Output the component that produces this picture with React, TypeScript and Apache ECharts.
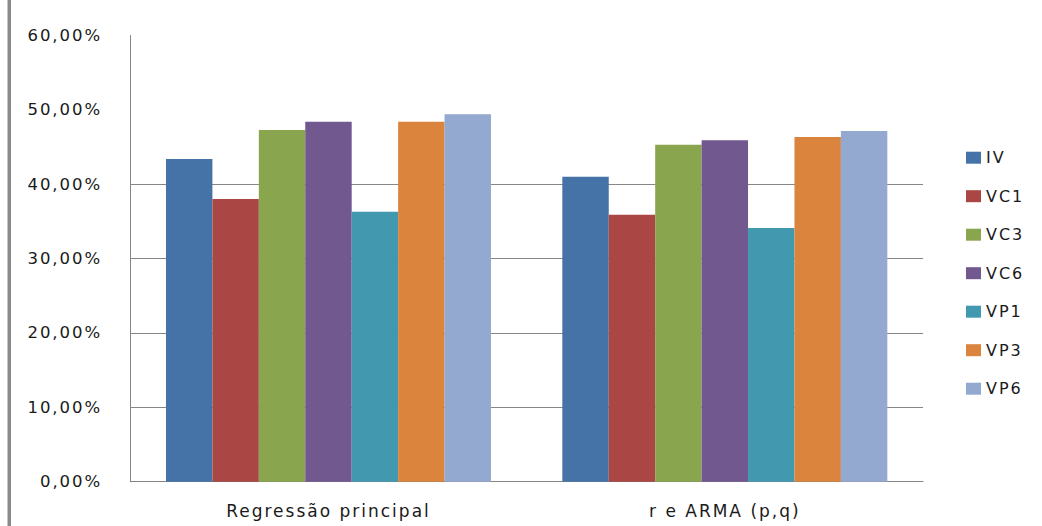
import React, { useEffect, useRef } from "react";
import * as echarts from "echarts";

const categories = ["Regressão principal", "r e ARMA (p,q)"];
const seriesNames = ["IV", "VC1", "VC3", "VC6", "VP1", "VP3", "VP6"];
const ivValues = [43.4, 41.0];
const vc1Values = [38.0, 35.9];
const vc3Values = [47.3, 45.3];
const vc6Values = [48.4, 45.9];
const vp1Values = [36.3, 34.1];
const vp3Values = [48.4, 46.35];
const vp6Values = [49.4, 47.15];
const seriesValues = [ivValues, vc1Values, vc3Values, vc6Values, vp1Values, vp3Values, vp6Values];
const seriesColors = ["#4572A7", "#AA4643", "#89A54E", "#71588F", "#4198AF", "#DB843D", "#93A9CF"];
const yTicks = [0, 10, 20, 30, 40, 50, 60];
const gridlineMax = 40;

const FONT = "DejaVu Sans";
const AXIS_COLOR = "#868686";

export default function App() {
  const ref = useRef<HTMLDivElement | null>(null);

  useEffect(() => {
    document.body.style.margin = "0";
    if (!ref.current) return;
    const chart = echarts.init(ref.current, null, { renderer: "svg" });

    const gridLeft = 130.3;
    const gridRight = 119;
    const gridTop = 35.5;
    const gridBottom = 44.3;
    const plotH = 526 - gridTop - gridBottom;
    const yMax = yTicks[yTicks.length - 1];
    const grid2Top = gridTop + plotH * (1 - gridlineMax / yMax);

    chart.setOption({
      animation: false,
      backgroundColor: "#ffffff",
      textStyle: { fontFamily: FONT },
      grid: [
        { left: gridLeft, right: gridRight, top: gridTop, bottom: gridBottom },
        { left: gridLeft, right: gridRight, top: grid2Top, bottom: gridBottom },
      ],
      legend: {
        orient: "vertical",
        left: 961,
        top: 144.7,
        itemWidth: 15,
        itemHeight: 12,
        itemGap: 22.5,
        icon: "rect",
        data: seriesNames,
        textStyle: { fontFamily: FONT, fontSize: 16, color: "#1a1a1a", lineHeight: 16 },
      },
      xAxis: [
        {
          type: "category",
          gridIndex: 0,
          data: categories,
          axisLine: { show: true, lineStyle: { color: AXIS_COLOR, width: 1 } },
          axisTick: { show: false },
          axisLabel: { fontFamily: FONT, fontSize: 17, color: "#1a1a1a", margin: 21 },
          splitLine: { show: false },
        },
        {
          type: "category",
          gridIndex: 1,
          data: categories,
          show: false,
        },
      ],
      yAxis: [
        {
          type: "value",
          gridIndex: 0,
          min: 0,
          max: yMax,
          interval: 10,
          axisLine: { show: true, lineStyle: { color: AXIS_COLOR, width: 1 } },
          axisTick: { show: false },
          splitLine: { show: false },
          axisLabel: {
            fontFamily: FONT,
            fontSize: 16.5,
            color: "#1a1a1a",
            margin: 28,
            formatter: (v: number) => v.toFixed(2).replace(".", ",") + "%",
          },
        },
        {
          type: "value",
          gridIndex: 1,
          min: 0,
          max: gridlineMax,
          interval: 10,
          axisLine: { show: false },
          axisTick: { show: false },
          axisLabel: { show: false },
          splitLine: { show: true, lineStyle: { color: AXIS_COLOR, width: 1 } },
        },
      ],
      series: seriesNames.map((name, i) => ({
        name,
        type: "bar",
        xAxisIndex: 0,
        yAxisIndex: 0,
        data: seriesValues[i],
        barGap: "0%",
        barCategoryGap: "18%",
        itemStyle: { color: seriesColors[i] },
        z: 3,
      })),
      graphic: [
        {
          type: "rect",
          left: 7.5,
          top: 0,
          shape: { width: 3.5, height: 526 },
          style: { fill: "#8a8a8a" },
        },
      ],
    });

    return () => chart.dispose();
  }, []);

  return (
    <div
      ref={ref}
      style={{
        position: "fixed",
        left: 0,
        top: 0,
        width: 1042,
        height: 526,
        letterSpacing: "2px",
      }}
    />
  );
}
